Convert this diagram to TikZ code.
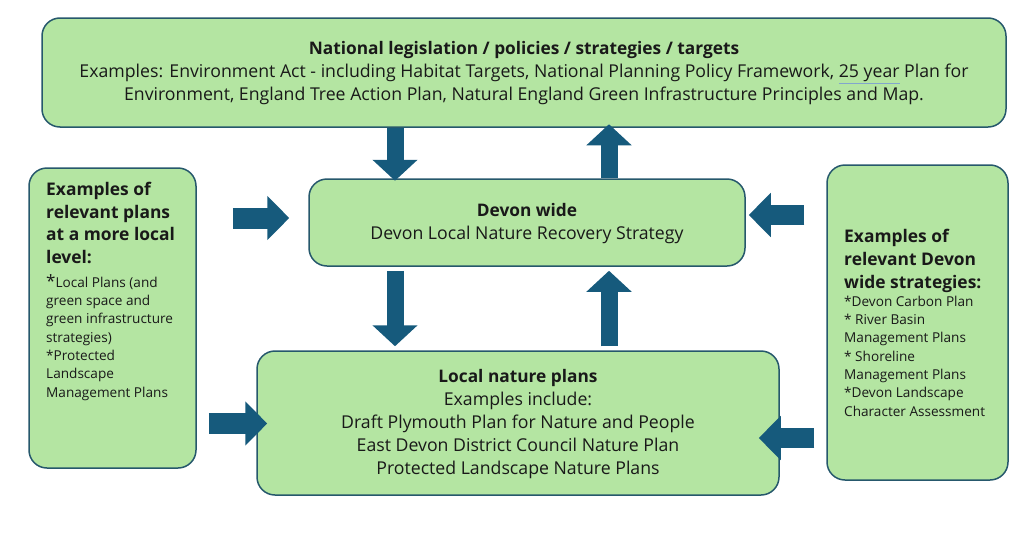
\documentclass[tikz,border=0pt]{standalone}
\usepackage{fontspec}
\setmainfont{Open Sans}
\usetikzlibrary{arrows.meta}
\definecolor{boxfill}{RGB}{180,229,162}
\definecolor{boxline}{RGB}{38,88,108}
\definecolor{arr}{RGB}{22,90,124}
\definecolor{txt}{RGB}{25,25,25}
\definecolor{ulc}{RGB}{130,165,205}
\begin{document}
\begin{tikzpicture}[x=1pt,y=-1pt,
  box/.style={draw=boxline, line width=1.5pt, fill=boxfill, rounded corners=18pt, inner sep=0pt, text=txt},
  maintext/.style={font=\fontsize{17.7}{23}\selectfont, align=center, inner ysep=0pt, text depth=3pt},
  vertarrow/.style={arr, line width=17pt, -{Triangle[width=44pt,length=21pt]}},
  sidearrow/.style={arr, line width=21pt, -{Triangle[width=43pt,length=22pt]}},
  headtext/.style={font=\bfseries\fontsize{17.4}{22.7}\selectfont, align=left, inner sep=0pt, text=txt},
  listtext/.style={font=\fontsize{13.6}{18.3}\selectfont, align=left, inner sep=0pt, text=txt}
]
\useasboundingbox (0,0) rectangle (1024,538);

% boxes
\node[box, maintext, minimum width=964pt, minimum height=109pt] (nat) at (524,72.5)
  {{\bfseries\fontsize{17.3}{23}\selectfont National legislation / policies / strategies / targets}\\
   Examples: Environment Act - including Habitat Targets, National Planning Policy Framework, {\color{ulc}\underline{\color{txt}25 year}} Plan for\\
   Environment, England Tree Action Plan, Natural England Green Infrastructure Principles and Map.};

\node[box, maintext, minimum width=436pt, minimum height=87pt] (devon) at (527,222.5)
  {{\bfseries\fontsize{17.3}{23}\selectfont Devon wide}\\ Devon Local Nature Recovery Strategy};

\node[box, maintext, minimum width=522pt, minimum height=144pt] (local) at (518,423)
  {{\bfseries\fontsize{17.3}{23}\selectfont Local nature plans}\\ Examples include:\\ Draft Plymouth Plan for Nature and People\\
   East Devon District Council Nature Plan\\ Protected Landscape Nature Plans};

\node[box, minimum width=167pt, minimum height=300pt] (left) at (112.5,318) {};
\node[box, minimum width=181pt, minimum height=315pt] (right) at (917.5,322.5) {};

% side texts (base anchor = last line's baseline)
\node[headtext, anchor=base west] (lefthead) at (46,263.5)
  {Examples of\\relevant plans\\at a more local\\level:};
\node[listtext, anchor=base west] (leftlist) at (46,397)
  {{\fontsize{17}{17}\selectfont*}Local Plans (and\\green space and\\green infrastructure\\strategies)\\*Protected\\Landscape\\Management Plans};

\node[headtext, anchor=base west] (righthead) at (844,288)
  {Examples of\\relevant Devon\\wide strategies:};
\node[listtext, anchor=base west] (rightlist) at (844,416)
  {*Devon Carbon Plan\\* River Basin\\Management Plans\\* Shoreline\\Management Plans\\*Devon Landscape\\Character Assessment};

% arrow positions
\coordinate (xa) at (395,0);
\coordinate (xb) at (609,0);
\coordinate (ya) at (0,218);
\coordinate (yb) at (0,423.5);
\coordinate (yc) at (0,215);
\coordinate (yd) at (0,438);

% vertical arrows
\draw[vertarrow, shorten >=-2.5pt] (xa |- nat.south) -- (xa |- devon.north);
\draw[vertarrow, shorten >=-3.5pt] (xb |- devon.north) -- (xb |- nat.south);
\draw[vertarrow, shorten <=4pt, shorten >=4pt] (xa |- devon.south) -- (xa |- local.north);
\draw[vertarrow, shorten <=4pt, shorten >=4pt] (xb |- local.north) -- (xb |- devon.south);

% side arrows
\draw[sidearrow, shorten <=36pt, shorten >=19pt] (ya -| left.east) -- (ya -| devon.west);
\draw[sidearrow, shorten <=12pt, shorten >=-11pt] (yb -| left.east) -- (yb -| local.west);
\draw[sidearrow, line width=20pt, shorten <=22pt, shorten >=3pt] (yc -| right.west) -- (yc -| devon.east);
\draw[sidearrow, line width=20pt, shorten <=12pt, shorten >=-21pt] (yd -| right.west) -- (yd -| local.east);
\end{tikzpicture}
\end{document}
